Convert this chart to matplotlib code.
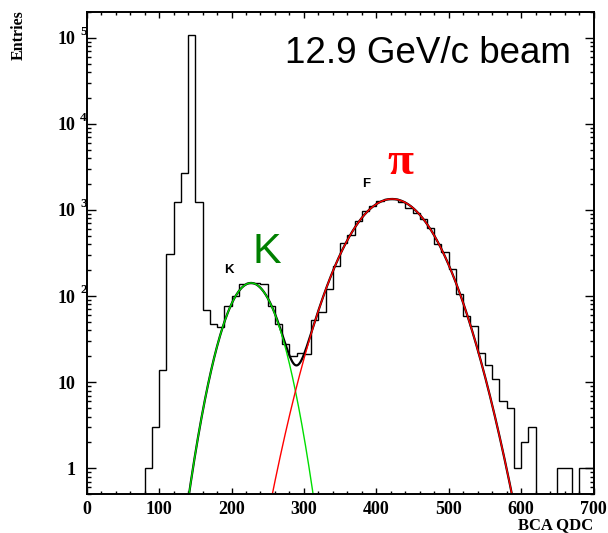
import numpy as np
import matplotlib
matplotlib.use("Agg")
import matplotlib.pyplot as plt
from matplotlib import transforms
from matplotlib.ticker import MultipleLocator, LogLocator, NullFormatter

# histogram: 10-wide bins from 80 to 700
bin_lo = 80
bin_hi = 700
bin_width = 10
counts = [1, 3, 14, 305, 1250, 2670, 106000, 1250, 69, 47,
          44, 76, 99, 138, 141, 141, 138, 76, 48, 28,
          20, 22, 21, 53, 65, 122, 222, 415, 510, 737,
          960, 1115, 1285, 1340, 1340, 1230, 1055, 925, 785, 617,
          403, 325, 206, 105, 58, 45, 22, 16, 11, 6,
          5, 1, 2, 3, 0, 0, 0, 1, 1, 0,
          1, 1]

# gaussian fit parameters (amplitude, mean, sigma)
kaon_fit = [142, 227, 25.5]
pion_fit = [1340, 421.8, 41.65]

x_ticks = [0, 100, 200, 300, 400, 500, 600, 700]
y_ticks = [1, 10, 100, 1000, 10000, 100000]
y_exponents = ['', '', '2', '3', '4', '5']

edges = np.arange(bin_lo, bin_hi + bin_width, bin_width)
xf = np.linspace(100, 700, 1500)


def gaus(x, p):
    return p[0] * np.exp(-0.5 * ((x - p[1]) / p[2]) ** 2)


fig = plt.figure(figsize=(6.08, 5.33), dpi=100)
ax = fig.add_axes([0.1426, 0.0726, 0.8336, 0.9054])

ax.set_yscale('log')
ax.stairs(counts, edges, baseline=0, color='black', lw=1.0)

ax.plot(xf, gaus(xf, kaon_fit) + gaus(xf, pion_fit), color='black', lw=1.6)
ax.plot(xf, gaus(xf, kaon_fit), color='#00dd00', lw=1.0)
ax.plot(xf, gaus(xf, pion_fit), color='#ff0000', lw=1.0)

ax.set_xlim(0, 700)
ax.set_ylim(0.5, 2e5)

serif = 'Liberation Serif'
ax.set_xticks(x_ticks)
ax.set_xticklabels([str(v) for v in x_ticks], fontfamily=serif,
                   fontweight='bold', fontsize=13)
ax.xaxis.set_minor_locator(MultipleLocator(20))
ax.set_yticks(y_ticks)
ax.set_yticklabels(['1', '10', '10', '10', '10', '10'], fontfamily=serif,
                   fontweight='bold', fontsize=13)
ax.yaxis.set_minor_locator(LogLocator(base=10, subs=range(2, 10)))
ax.yaxis.set_minor_formatter(NullFormatter())

ax.tick_params(which='both', direction='in', top=True, right=True, width=1.0)
ax.tick_params(axis='x', which='major', length=4.5, pad=5)
ax.tick_params(axis='x', which='minor', length=2.5)
ax.tick_params(axis='y', which='major', length=6.5, pad=8)
ax.tick_params(axis='y', which='minor', length=3.2)
for s in ax.spines.values():
    s.set_linewidth(1.4)

# exponents of the y labels
tr = transforms.blended_transform_factory(ax.transAxes, ax.transData)
for v, e in zip(y_ticks, y_exponents):
    if e:
        ax.text(-0.0125, v, e, transform=tr, ha='left', va='bottom',
                fontfamily=serif, fontweight='bold', fontsize=9.5)

fig.text(0.03, 0.981, 'Entries', rotation=90, ha='center', va='top',
         fontfamily=serif, fontweight='bold', fontsize=11.5)
fig.text(0.976, 0.0075, 'BCA QDC', ha='right', va='baseline',
         fontfamily=serif, fontweight='bold', fontsize=12)

fig.text(0.469, 1 - 63 / 533, '12.9 GeV/c beam', ha='left', va='baseline',
         fontfamily='Liberation Sans', fontsize=26.5)
fig.text(252.7 / 608, 1 - 263.3 / 533, 'K', ha='left', va='baseline',
         fontfamily='Liberation Sans', fontsize=31, color='#008000')
fig.text(400 / 608, 1 - 174.3 / 533, 'π', ha='center', va='baseline',
         fontfamily=serif, fontweight='bold', fontsize=34, color='#ff0000')
fig.text(229 / 608, 1 - 273.3 / 533, 'K', ha='center', va='baseline',
         fontfamily='Liberation Sans', fontweight='bold', fontsize=9.5)
fig.text(366 / 608, 1 - 187.3 / 533, 'F', ha='center', va='baseline',
         fontfamily='Liberation Sans', fontweight='bold', fontsize=9.5)

fig.savefig('out.png', dpi=100)
